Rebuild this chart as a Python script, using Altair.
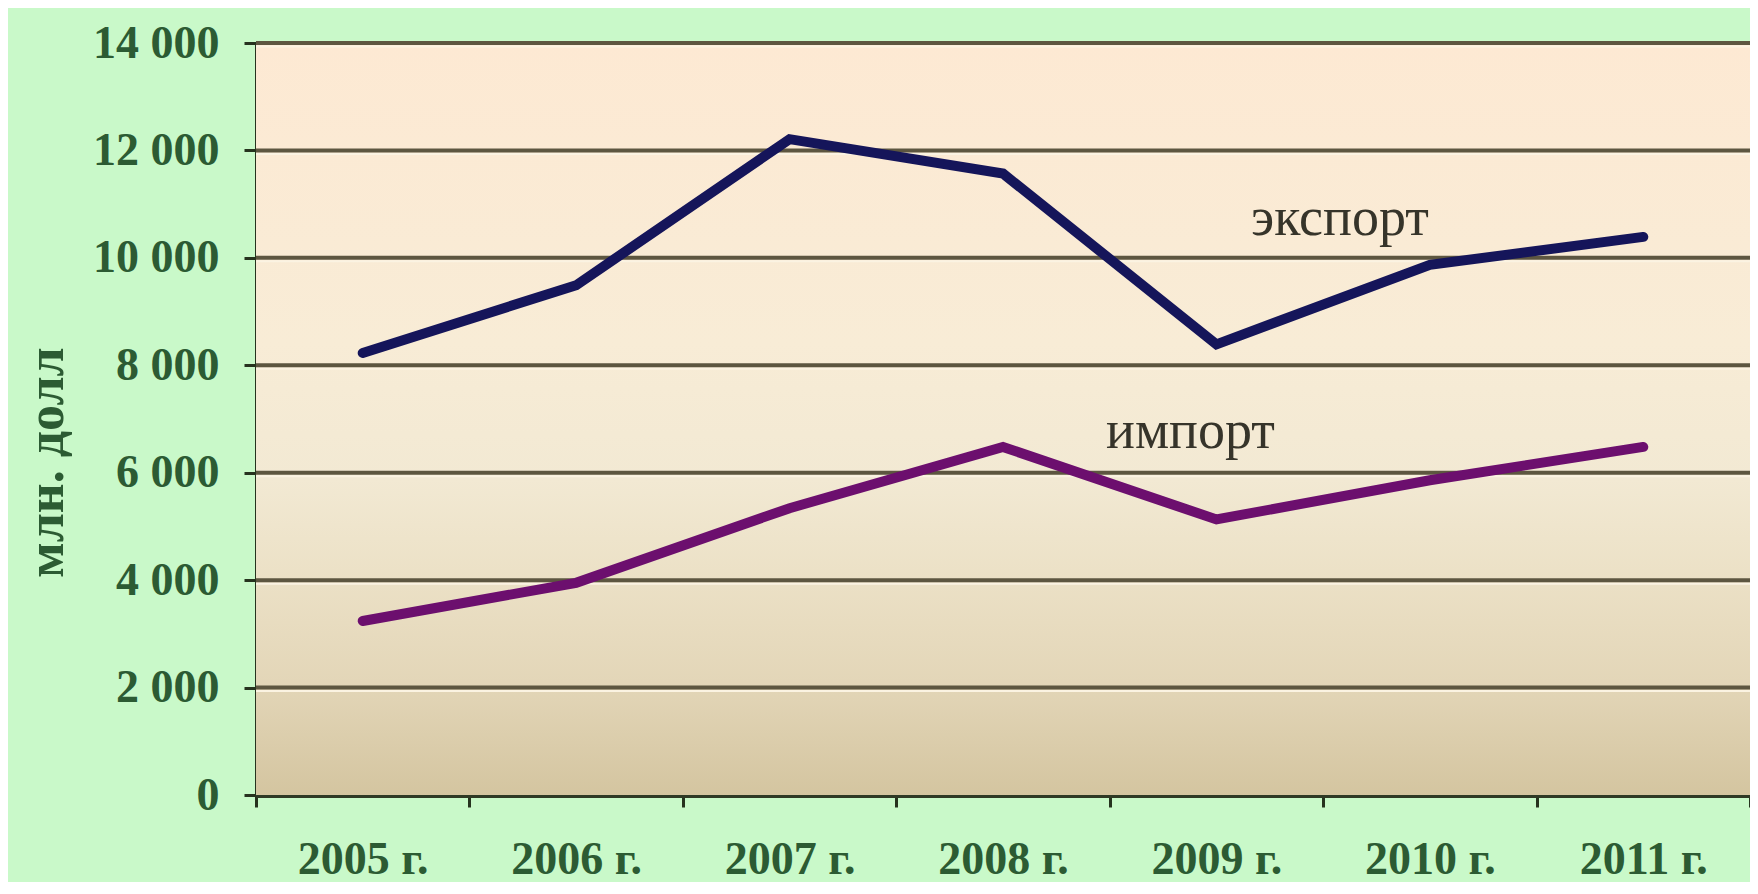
import altair as alt
import pandas as pd

# ---- data ----
years = ["2005 г.", "2006 г.", "2007 г.", "2008 г.", "2009 г.", "2010 г.", "2011 г."]
export_values = [8230, 9490, 12210, 11570, 8390, 9870, 10390]
import_values = [3240, 3950, 5340, 6480, 5130, 5860, 6480]
series_names = ["экспорт", "импорт"]
series_colors = ["#15155a", "#6c0f6e"]
y_tick_values = [0, 2000, 4000, 6000, 8000, 10000, 12000, 14000]
y_title = "млн. долл"

# annotation labels: text, anchor year, value at baseline
ann_text = ["экспорт", "импорт"]
ann_year = ["2010 г.", "2009 г."]
ann_value = [10430, 6460]

rows = []
for name, vals in zip(series_names, [export_values, import_values]):
    for y, v in zip(years, vals):
        rows.append({"year": y, "value": v, "series": name})
df = pd.DataFrame(rows)

W, H = 1494, 752
FONT = "Liberation Serif"
LABEL_COLOR = "#2c5b33"

x_enc = alt.X("year:N", sort=years,
              scale=alt.Scale(domain=years, paddingInner=0, paddingOuter=0),
              axis=alt.Axis(title=None, tickBand="extent", labelAngle=0,
                            labelBaseline="alphabetic", labelPadding=66,
                            tickSize=12, tickWidth=3, tickColor="#26331e",
                            domainColor="#2f3a25", domainWidth=5, grid=False))
y_scale = alt.Scale(domain=[0, 14000], nice=False)
y_axis = alt.Axis(values=y_tick_values, title=y_title,
                  labelExpr="replace(format(datum.value, ','), ',', ' ')",
                  tickSize=12, tickWidth=3, tickColor="#26331e",
                  domainColor="#26331e", domainWidth=3,
                  grid=False,
                  labelPadding=25, labelBaseline="middle",
                  titleX=-210, titleY=419, titleAngle=270,
                  titleAlign="center", titleBaseline="middle")

bg = alt.Chart(pd.DataFrame({"top": [14000], "bottom": [0]})).mark_rect(
    color=alt.LinearGradient(
        gradient="linear", x1=0, x2=0, y1=0, y2=1,
        stops=[alt.GradientStop(color="#fde9d3", offset=0),
               alt.GradientStop(color="#f8ecd6", offset=0.4),
               alt.GradientStop(color="#f2e9d3", offset=0.58),
               alt.GradientStop(color="#ebe0c5", offset=0.72),
               alt.GradientStop(color="#e3d6b8", offset=0.85),
               alt.GradientStop(color="#d4c5a0", offset=1)]),
).encode(x=alt.value(0), x2=alt.value(W),
         y=alt.Y("top:Q", scale=y_scale, axis=y_axis), y2="bottom:Q")

grid_df = pd.DataFrame({"v": y_tick_values[1:]})
grid_hi = alt.Chart(grid_df).mark_rule(color="#fbf3e2", strokeWidth=2, yOffset=3.5).encode(
    y=alt.Y("v:Q", scale=y_scale))
grid = alt.Chart(grid_df).mark_rule(color="#5d5640", strokeWidth=4).encode(
    y=alt.Y("v:Q", scale=y_scale))

lines = alt.Chart(df).mark_line(strokeWidth=10, strokeCap="round", strokeJoin="miter").encode(
    x=x_enc,
    y=alt.Y("value:Q", scale=y_scale, axis=y_axis),
    color=alt.Color("series:N", scale=alt.Scale(domain=series_names, range=series_colors), legend=None),
    detail="series:N",
)

ann_df = pd.DataFrame({"text": ann_text, "year": ann_year, "value": ann_value})
ann1 = alt.Chart(ann_df.iloc[[0]]).mark_text(font=FONT, fontSize=54, color="#36342a",
                                             baseline="alphabetic", align="center", dx=-90).encode(
    x=alt.X("year:N", sort=years), y="value:Q", text="text:N")
ann2 = alt.Chart(ann_df.iloc[[1]]).mark_text(font=FONT, fontSize=54, color="#36342a",
                                             baseline="alphabetic", align="center", dx=-26).encode(
    x=alt.X("year:N", sort=years), y="value:Q", text="text:N")

chart = alt.layer(bg, grid_hi, grid, lines, ann1, ann2).properties(
    width=W, height=H,
    autosize=alt.AutoSizeParams(type="none"),
    padding={"left": 248, "top": 35, "right": 0, "bottom": 87},
    background="#c9f9c9",
).configure_view(stroke=None).configure_axis(
    labelFont=FONT, labelFontSize=46, labelColor=LABEL_COLOR, labelFontWeight="bold",
    titleFont=FONT, titleFontSize=52, titleColor=LABEL_COLOR, titleFontWeight="bold",
)

chart.save("out.html", embed_options={"renderer": "svg", "actions": False})
